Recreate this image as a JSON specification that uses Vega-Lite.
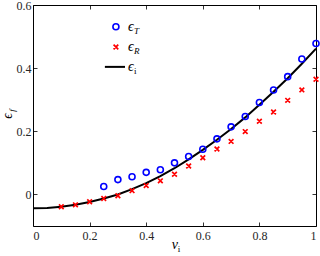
{
  "$schema": "https://vega.github.io/schema/vega-lite/v6.json",
  "width": 283,
  "height": 221,
  "autosize": {"type": "none"},
  "padding": {"left": 33, "top": 5, "right": 4, "bottom": 30},
  "config": {
    "view": {"stroke": null},
    "font": "Liberation Serif",
    "axis": {
      "grid": false,
      "domainColor": "#000000",
      "domainWidth": 1,
      "tickColor": "#000000",
      "tickSize": -4,
      "tickWidth": 0.8,
      "labelFont": "Liberation Serif",
      "labelFontSize": 12,
      "labelColor": "#262626",
      "title": null
    }
  },
  "datasets": {
    "one": [{}],
    "ei": [
      {"v": 0.0, "e": -0.044}, {"v": 0.05, "e": -0.043}, {"v": 0.1, "e": -0.039},
      {"v": 0.15, "e": -0.033}, {"v": 0.2, "e": -0.024}, {"v": 0.25, "e": -0.013},
      {"v": 0.3, "e": 0.0}, {"v": 0.35, "e": 0.017}, {"v": 0.4, "e": 0.036},
      {"v": 0.45, "e": 0.058}, {"v": 0.5, "e": 0.083}, {"v": 0.55, "e": 0.111},
      {"v": 0.6, "e": 0.141}, {"v": 0.65, "e": 0.173}, {"v": 0.7, "e": 0.207},
      {"v": 0.75, "e": 0.244}, {"v": 0.8, "e": 0.284}, {"v": 0.85, "e": 0.325},
      {"v": 0.9, "e": 0.368}, {"v": 0.95, "e": 0.414}, {"v": 1.0, "e": 0.462}
    ],
    "eT": [
      {"v": 0.25, "e": 0.025}, {"v": 0.3, "e": 0.047}, {"v": 0.35, "e": 0.056},
      {"v": 0.4, "e": 0.07}, {"v": 0.45, "e": 0.078}, {"v": 0.5, "e": 0.1},
      {"v": 0.55, "e": 0.12}, {"v": 0.6, "e": 0.143}, {"v": 0.65, "e": 0.176},
      {"v": 0.7, "e": 0.214}, {"v": 0.75, "e": 0.247}, {"v": 0.8, "e": 0.291},
      {"v": 0.85, "e": 0.331}, {"v": 0.9, "e": 0.373}, {"v": 0.95, "e": 0.429},
      {"v": 1.0, "e": 0.478}
    ],
    "eR": [
      {"v": 0.1, "e": -0.039}, {"v": 0.15, "e": -0.033}, {"v": 0.2, "e": -0.023},
      {"v": 0.25, "e": -0.013}, {"v": 0.3, "e": -0.004}, {"v": 0.35, "e": 0.012},
      {"v": 0.4, "e": 0.028}, {"v": 0.45, "e": 0.043}, {"v": 0.5, "e": 0.064},
      {"v": 0.55, "e": 0.09}, {"v": 0.6, "e": 0.116}, {"v": 0.65, "e": 0.144},
      {"v": 0.7, "e": 0.168}, {"v": 0.75, "e": 0.199}, {"v": 0.8, "e": 0.232},
      {"v": 0.85, "e": 0.261}, {"v": 0.9, "e": 0.298}, {"v": 0.95, "e": 0.331},
      {"v": 1.0, "e": 0.365}
    ]
  },
  "layer": [
    {
      "data": {"name": "ei"},
      "mark": {"type": "line", "color": "#000000", "strokeWidth": 2},
      "encoding": {
        "x": {"field": "v", "type": "quantitative", "scale": {"domain": [0, 1], "nice": false},
              "axis": {"orient": "bottom", "values": [0, 0.2, 0.4, 0.6, 0.8, 1], "format": "~g", "labelPadding": 8}},
        "y": {"field": "e", "type": "quantitative", "scale": {"domain": [-0.1, 0.6], "nice": false, "zero": false},
              "axis": {"orient": "left", "values": [0, 0.2, 0.4, 0.6], "format": "~g", "labelPadding": 6}}
      }
    },
    {
      "data": {"name": "ei"},
      "mark": {"type": "point", "opacity": 0},
      "encoding": {
        "x": {"field": "v", "type": "quantitative", "scale": {"domain": [0, 1], "nice": false},
              "axis": {"orient": "top", "values": [0, 0.2, 0.4, 0.6, 0.8, 1], "labels": false}},
        "y": {"field": "e", "type": "quantitative", "scale": {"domain": [-0.1, 0.6], "nice": false, "zero": false},
              "axis": {"orient": "right", "values": [0, 0.2, 0.4, 0.6], "labels": false}}
      }
    },
    {
      "data": {"name": "eT"},
      "mark": {"type": "point", "shape": "circle", "filled": false, "color": "#0000ff", "strokeWidth": 1.6, "size": 36, "opacity": 1},
      "encoding": {
        "x": {"field": "v", "type": "quantitative", "axis": null},
        "y": {"field": "e", "type": "quantitative", "axis": null}
      }
    },
    {
      "data": {"name": "eR"},
      "mark": {"type": "point", "shape": "M-1,-1L1,1M-1,1L1,-1M0,-0.6L0,0.6", "filled": false, "color": "#ff0000", "strokeWidth": 1.7, "size": 22, "opacity": 1},
      "encoding": {
        "x": {"field": "v", "type": "quantitative", "axis": null},
        "y": {"field": "e", "type": "quantitative", "axis": null}
      }
    },
    {
      "data": {"name": "one"},
      "mark": {"type": "point", "shape": "circle", "filled": false, "color": "#0000ff", "strokeWidth": 1.6, "size": 36, "opacity": 1},
      "encoding": {"x": {"datum": 0.293, "type": "quantitative", "axis": null}, "y": {"datum": 0.531, "type": "quantitative", "axis": null}}
    },
    {
      "data": {"name": "one"},
      "mark": {"type": "point", "shape": "M-1,-1L1,1M-1,1L1,-1M0,-0.6L0,0.6", "filled": false, "color": "#ff0000", "strokeWidth": 1.7, "size": 22, "opacity": 1},
      "encoding": {"x": {"datum": 0.293, "type": "quantitative", "axis": null}, "y": {"datum": 0.467, "type": "quantitative", "axis": null}}
    },
    {
      "data": {"name": "one"},
      "mark": {"type": "rule", "color": "#000000", "strokeWidth": 2},
      "encoding": {"x": {"datum": 0.254, "type": "quantitative", "axis": null}, "x2": {"datum": 0.325}, "y": {"datum": 0.404, "type": "quantitative", "axis": null}}
    },
    {
      "data": {"name": "one"},
      "mark": {"type": "text", "text": "ϵ", "fontStyle": "italic", "fontSize": 14, "align": "left", "baseline": "middle", "font": "Liberation Serif"},
      "encoding": {"x": {"datum": 0.336, "type": "quantitative", "axis": null}, "y": {"datum": 0.531, "type": "quantitative", "axis": null}}
    },
    {
      "data": {"name": "one"},
      "mark": {"type": "text", "text": "T", "fontStyle": "italic", "fontSize": 9, "align": "left", "baseline": "middle", "font": "Liberation Serif", "dx": 6, "dy": 4},
      "encoding": {"x": {"datum": 0.336, "type": "quantitative", "axis": null}, "y": {"datum": 0.531, "type": "quantitative", "axis": null}}
    },
    {
      "data": {"name": "one"},
      "mark": {"type": "text", "text": "ϵ", "fontStyle": "italic", "fontSize": 14, "align": "left", "baseline": "middle", "font": "Liberation Serif"},
      "encoding": {"x": {"datum": 0.336, "type": "quantitative", "axis": null}, "y": {"datum": 0.467, "type": "quantitative", "axis": null}}
    },
    {
      "data": {"name": "one"},
      "mark": {"type": "text", "text": "R", "fontStyle": "italic", "fontSize": 9, "align": "left", "baseline": "middle", "font": "Liberation Serif", "dx": 6, "dy": 4},
      "encoding": {"x": {"datum": 0.336, "type": "quantitative", "axis": null}, "y": {"datum": 0.467, "type": "quantitative", "axis": null}}
    },
    {
      "data": {"name": "one"},
      "mark": {"type": "text", "text": "ϵ", "fontStyle": "italic", "fontSize": 14, "align": "left", "baseline": "middle", "font": "Liberation Serif"},
      "encoding": {"x": {"datum": 0.336, "type": "quantitative", "axis": null}, "y": {"datum": 0.404, "type": "quantitative", "axis": null}}
    },
    {
      "data": {"name": "one"},
      "mark": {"type": "text", "text": "i", "fontSize": 9, "align": "left", "baseline": "middle", "font": "Liberation Serif", "dx": 6, "dy": 4},
      "encoding": {"x": {"datum": 0.336, "type": "quantitative", "axis": null}, "y": {"datum": 0.404, "type": "quantitative", "axis": null}}
    },
    {
      "data": {"name": "one"},
      "mark": {"type": "text", "text": "v", "fontStyle": "italic", "fontSize": 14, "align": "left", "baseline": "alphabetic", "font": "Liberation Serif"},
      "encoding": {"x": {"datum": 0.49, "type": "quantitative", "axis": null}, "y": {"datum": -0.173, "type": "quantitative", "axis": null}}
    },
    {
      "data": {"name": "one"},
      "mark": {"type": "text", "text": "i", "fontSize": 9, "align": "left", "baseline": "alphabetic", "font": "Liberation Serif", "dx": 6, "dy": 3},
      "encoding": {"x": {"datum": 0.49, "type": "quantitative", "axis": null}, "y": {"datum": -0.173, "type": "quantitative", "axis": null}}
    },
    {
      "data": {"name": "one"},
      "mark": {"type": "text", "text": "ϵ", "fontStyle": "italic", "fontSize": 14, "align": "left", "baseline": "alphabetic", "font": "Liberation Serif", "angle": 270},
      "encoding": {"x": {"datum": -0.074, "type": "quantitative", "axis": null}, "y": {"datum": 0.24, "type": "quantitative", "axis": null}}
    },
    {
      "data": {"name": "one"},
      "mark": {"type": "text", "text": "f", "fontStyle": "italic", "fontSize": 9, "align": "left", "baseline": "alphabetic", "font": "Liberation Serif", "angle": 270},
      "encoding": {"x": {"datum": -0.063, "type": "quantitative", "axis": null}, "y": {"datum": 0.262, "type": "quantitative", "axis": null}}
    }
  ],
  "resolve": {"axis": {"x": "independent", "y": "independent"}}
}
